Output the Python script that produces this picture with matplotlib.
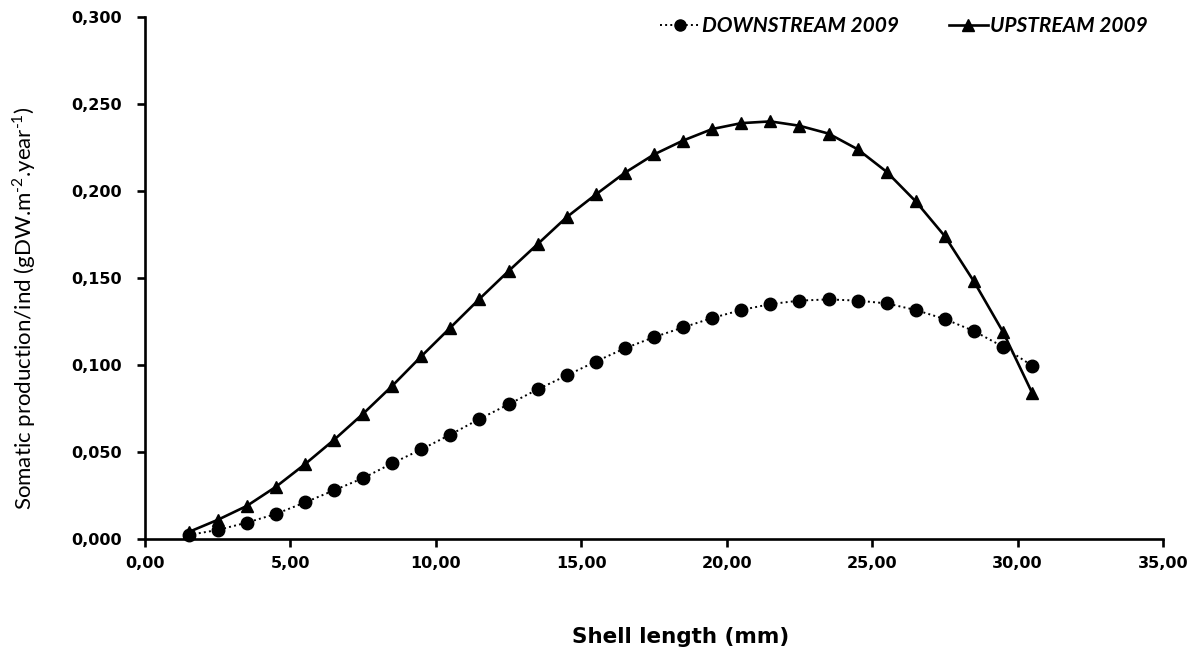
import numpy as np
import matplotlib
matplotlib.use("Agg")
import matplotlib.pyplot as plt
from matplotlib.ticker import FuncFormatter, MultipleLocator

plt.rcParams['font.family'] = ['Lato', 'DejaVu Sans']
plt.rcParams['mathtext.fontset'] = 'custom'
plt.rcParams['mathtext.rm'] = 'Lato'

# shell length classes (mm)
shell_length = [1.5, 2.5, 3.5, 4.5, 5.5, 6.5, 7.5, 8.5, 9.5, 10.5,
                11.5, 12.5, 13.5, 14.5, 15.5, 16.5, 17.5, 18.5, 19.5, 20.5,
                21.5, 22.5, 23.5, 24.5, 25.5, 26.5, 27.5, 28.5, 29.5, 30.5]

# somatic production per individual
downstream_2009 = [0.0023, 0.0052, 0.0094, 0.0144, 0.021, 0.028, 0.035, 0.0435, 0.0515, 0.060,
                   0.069, 0.0774, 0.086, 0.094, 0.102, 0.1096, 0.116, 0.1216, 0.127, 0.1316,
                   0.135, 0.137, 0.1377, 0.137, 0.1354, 0.1316, 0.1264, 0.1195, 0.1105, 0.0996]
upstream_2009 = [0.004, 0.011, 0.019, 0.030, 0.043, 0.057, 0.072, 0.088, 0.105, 0.1215,
                 0.138, 0.154, 0.1695, 0.185, 0.198, 0.2105, 0.221, 0.229, 0.2356, 0.239,
                 0.240, 0.2375, 0.233, 0.224, 0.211, 0.194, 0.174, 0.148, 0.119, 0.084]

W, H = 1196, 654
fig = plt.figure(figsize=(W / 100, H / 100), dpi=100)
ax = fig.add_axes([145 / W, 1 - 539 / H, (1163 - 145) / W, (539 - 17) / H])

ax.plot(shell_length, downstream_2009, linestyle=':', color='black', lw=1.4,
        marker='o', ms=9, label='DOWNSTREAM 2009', clip_on=False)
ax.plot(shell_length, upstream_2009, linestyle='-', color='black', lw=1.9,
        marker='^', ms=9, label='UPSTREAM 2009', clip_on=False)

ax.set_xlim(0, 35)
ax.set_ylim(0, 0.3)
ax.xaxis.set_major_locator(MultipleLocator(5))
ax.yaxis.set_major_locator(MultipleLocator(0.05))
ax.xaxis.set_major_formatter(FuncFormatter(lambda v, p: f"{v:.2f}".replace('.', ',')))
ax.yaxis.set_major_formatter(FuncFormatter(lambda v, p: f"{v:.3f}".replace('.', ',')))

for s in ['top', 'right']:
    ax.spines[s].set_visible(False)
for s in ['left', 'bottom']:
    ax.spines[s].set_linewidth(1.9)
ax.tick_params(direction='out', length=6, width=1.9)
ax.tick_params(axis='x', pad=6)
ax.tick_params(axis='y', pad=11)
for lbl in ax.get_xticklabels() + ax.get_yticklabels():
    lbl.set_fontfamily('DejaVu Sans')
    lbl.set_fontweight('bold')
    lbl.set_fontsize(11.5)

fig.text(24 / W, 1 - 308 / H, 'Somatic production/ind (gDW.m$^{\\text{-2}}$.year$^{\\text{-1}}$)',
         fontsize=16, rotation=90, ha='center', va='center')
fig.text(681 / W, 1 - 637 / H, 'Shell length (mm)', fontsize=15.5, family='DejaVu Sans',
         fontweight='bold', ha='center', va='center')

leg = fig.legend(*ax.get_legend_handles_labels(), ncol=2, loc='center left',
                 bbox_to_anchor=(660 / W, 1 - 26 / H), frameon=False, borderpad=0,
                 borderaxespad=0, handlelength=1.9, columnspacing=2.4, handletextpad=0.1,
                 prop={'style': 'italic', 'weight': 'bold', 'size': 15})
for h in leg.legend_handles:
    h.set_markersize(8)

fig.savefig('out.png', dpi=100)
